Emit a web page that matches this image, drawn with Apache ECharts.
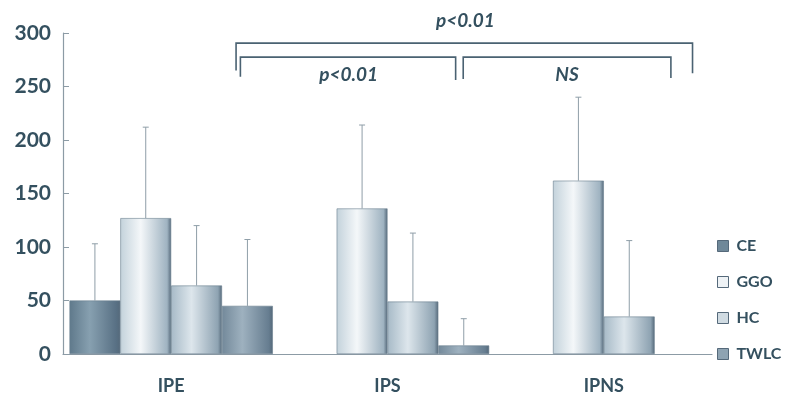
<!DOCTYPE html>
<html>
<head>
<meta charset="utf-8">
<script src="https://cdn.jsdelivr.net/npm/echarts@6/dist/echarts.min.js"></script>
<style>
  html, body { margin: 0; padding: 0; background: #fff; }
  #qwe { width: 793px; height: 401px; }
</style>
</head>
<body>
<div id="qwe"></div>
<script>
// data
var categories = ['IPE', 'IPS', 'IPNS'];
var seriesNames = ['CE', 'GGO', 'HC', 'TWLC'];
var ceValues   = [50, '-', '-'];
var ggoValues  = [127, 136, 162];
var hcValues   = [64, 49, 35];
var twlcValues = [45, 8, '-'];
// upper end of each error bar
var ceErr   = [103, '-', '-'];
var ggoErr  = [212, 214, 240];
var hcErr   = [120, 113, 106];
var twlcErr = [107, 33, '-'];
var yTicks = [0, 50, 100, 150, 200, 250, 300];

// significance brackets: [from, to, y, left leg end, right leg end], x in category units
var brackets = [
    [0.30, 2.41, 290.5, 265, 262.5],
    [0.32, 1.315, 277.5, 259, 256],
    [1.35, 2.31, 277.5, 257, 258]
];
var bracketLabels = [
    [1.36, 311, 'p<0.01'],
    [0.82, 261, 'p<0.01'],
    [1.83, 261, 'NS']
];

var values = [ceValues, ggoValues, hcValues, twlcValues];
var errs = [ceErr, ggoErr, hcErr, twlcErr];
var textColor = '#34505f';
var fontName = 'Lato, "Open Sans", sans-serif';

function grad(a, b, c) {
    return new echarts.graphic.LinearGradient(0, 0, 1, 0, [
        { offset: 0, color: a },
        { offset: 0.4, color: b },
        { offset: 0.92, color: c },
        { offset: 1, color: '#55697a' }
    ]);
}
var fills = [
    grad('#5f798b', '#87a0b0', '#587084'),
    grad('#c3d2db', '#f4f7f9', '#9fb3c1'),
    grad('#a7bac7', '#dde6ec', '#8ea3b2'),
    grad('#73899a', '#9eb1bf', '#667d90')
];
var legendColors = ['#6f8899', '#eef2f5', '#d0dbe2', '#8ea3b2'];

var BAR_GAP = 0.06;

var series = [];
seriesNames.forEach(function (name, i) {
    series.push({
        name: name,
        type: 'bar',
        data: values[i],
        barGap: 0,
        barCategoryGap: (BAR_GAP * 100) + '%',
        itemStyle: { color: fills[i], borderColor: '#6a7f8e', borderWidth: 0.6 },
        z: 2
    });
});

// error bars drawn from the same category/value scales
seriesNames.forEach(function (name, i) {
    var d = [];
    errs[i].forEach(function (e, k) {
        if (e !== '-') d.push([k, values[i][k], e]);
    });
    series.push({
        type: 'custom',
        data: d,
        z: 1,
        silent: true,
        renderItem: function (params, api) {
            var band = api.size([1, 0])[0];
            var w = band * (1 - BAR_GAP) / 4;
            var base = api.coord([api.value(0), api.value(1)]);
            var top = api.coord([api.value(0), api.value(2)]);
            var x = base[0] + (i - 1.5) * w;
            return {
                type: 'group',
                children: [
                    { type: 'line', shape: { x1: x, y1: base[1], x2: x, y2: top[1] },
                      style: { stroke: '#8f9ea8', lineWidth: 1 } },
                    { type: 'line', shape: { x1: x - 3, y1: top[1], x2: x + 3, y2: top[1] },
                      style: { stroke: '#8f9ea8', lineWidth: 1 } }
                ]
            };
        }
    });
});

series.push({
    type: 'custom',
    data: brackets,
    silent: true,
    renderItem: function (params, api) {
        var band = api.size([1, 0])[0];
        var x0 = api.coord([0, 0])[0];
        var x1 = x0 + api.value(0) * band;
        var x2 = x0 + api.value(1) * band;
        var y = api.coord([0, api.value(2)])[1];
        var yl = api.coord([0, api.value(3)])[1];
        var yr = api.coord([0, api.value(4)])[1];
        return {
            type: 'polyline',
            shape: { points: [[x1, yl], [x1, y], [x2, y], [x2, yr]] },
            style: { stroke: '#4a6272', lineWidth: 1.6, fill: null }
        };
    }
});

series.push({
    type: 'custom',
    data: bracketLabels,
    silent: true,
    renderItem: function (params, api) {
        var band = api.size([1, 0])[0];
        var x0 = api.coord([0, 0])[0];
        var x = x0 + api.value(0) * band;
        var y = api.coord([0, api.value(1)])[1];
        return {
            type: 'text',
            style: {
                x: x, y: y, text: bracketLabels[params.dataIndex][2],
                align: 'center', verticalAlign: 'middle',
                fill: textColor, font: 'italic bold 19px ' + fontName
            }
        };
    }
});

var myChart = echarts.init(document.getElementById('qwe'));

var option = {
    animation: false,
    backgroundColor: '#fff',
    grid: { left: 63, right: 81, top: 33, bottom: 47 },
    legend: {
        orient: 'vertical',
        left: 712,
        top: 233,
        itemWidth: 11,
        itemHeight: 11,
        itemGap: 20,
        icon: 'rect',
        data: seriesNames.map(function (n, i) {
            return { name: n, itemStyle: { color: legendColors[i], borderColor: '#55697a', borderWidth: 1 } };
        }),
        textStyle: { color: textColor, fontSize: 16, fontWeight: 'bold', fontFamily: fontName, padding: [0, 0, 0, 3] }
    },
    xAxis: {
        type: 'category',
        data: categories,
        axisLine: { lineStyle: { color: '#8c9ba5', width: 1.2 } },
        axisTick: { show: false },
        axisLabel: { color: textColor, fontSize: 18, fontWeight: 'bold', fontFamily: fontName, margin: 23 }
    },
    yAxis: {
        type: 'value',
        min: yTicks[0],
        max: yTicks[yTicks.length - 1],
        interval: 50,
        splitLine: { show: false },
        axisLine: { show: true, lineStyle: { color: '#8c9ba5', width: 1.2 } },
        axisTick: { show: true, inside: true, length: 6, lineStyle: { color: '#8c9ba5' } },
        axisLabel: { color: textColor, fontSize: 21, fontWeight: 'bold', fontFamily: fontName, margin: 12 }
    },
    series: series
};

myChart.setOption(option);
</script>
</body>
</html>
